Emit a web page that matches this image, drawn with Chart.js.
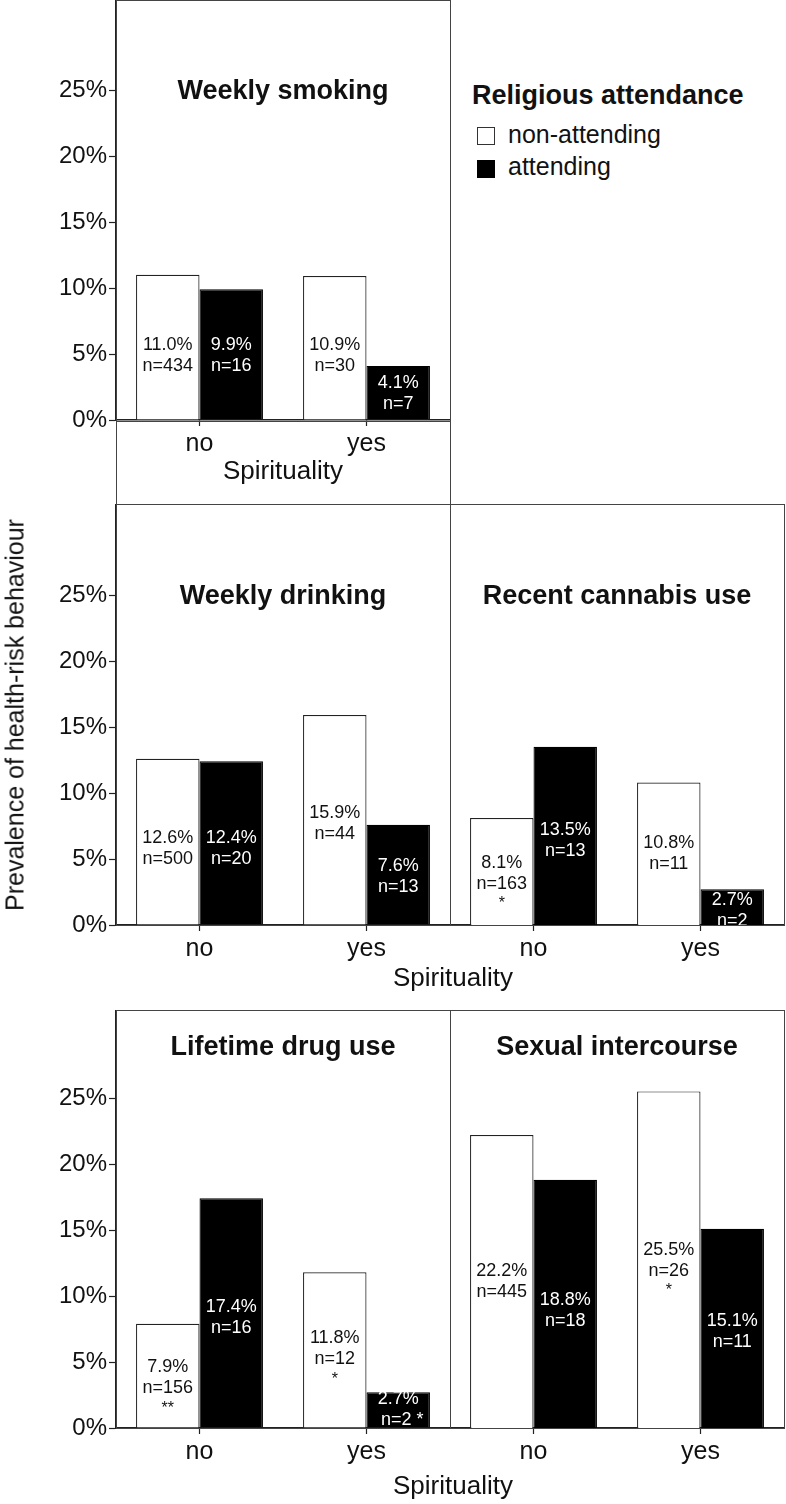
<!DOCTYPE html>
<html><head><meta charset="utf-8">
<script src="https://cdn.jsdelivr.net/npm/chart.js@4"></script>
<style>
body{margin:0;background:#fff;width:786px;height:1504px;position:relative;overflow:hidden;font-family:"Liberation Sans",Arial,sans-serif;color:#111}
canvas{position:absolute}
.box{position:absolute;border:1.5px solid #444;box-sizing:border-box;pointer-events:none}
.t{position:absolute;white-space:nowrap;font-size:25px}
</style></head><body>
<script>
const categories = ["no", "yes"];
const seriesNames = ["non-attending", "attending"];
const panelTitles = ["Weekly smoking", "Weekly drinking", "Recent cannabis use", "Lifetime drug use", "Sexual intercourse"];
const nonAttending = [[11.0, 10.9], [12.6, 15.9], [8.1, 10.8], [7.9, 11.8], [22.2, 25.5]];
const attending = [[9.9, 4.1], [12.4, 7.6], [13.5, 2.7], [17.4, 2.7], [18.8, 15.1]];
const nNon = [[434, 30], [500, 44], [163, 11], [156, 12], [445, 26]];
const nAtt = [[16, 7], [20, 13], [13, 2], [16, 2], [18, 11]];
const starsNon = [["", ""], ["", ""], ["*", ""], ["**", "*"], ["", "*"]];
const starsAtt = [["", ""], ["", ""], ["", ""], ["", "*"], ["", ""]];
const yTicks = [0, 5, 10, 15, 20, 25];

// layout (not data)
const layout = [
  {left:0, top:0, w:450, plotTop:0, plotBottom:420, h:504, axis:true, titleDy:92,
   lblNon:[4.9,4.9], lblAtt:[4.9,2.0]},
  {left:0, top:504, w:450, plotTop:504, plotBottom:925, h:470, axis:true, titleDy:93,
   lblNon:[5.8,7.65], lblAtt:[5.8,3.7]},
  {left:450, top:504, w:334, plotTop:504, plotBottom:925, h:470, axis:false, titleDy:93,
   lblNon:[3.1,5.4], lblAtt:[6.4,1.1]},
  {left:0, top:1010, w:450, plotTop:1010, plotBottom:1428, h:494, axis:true, titleDy:38,
   lblNon:[3.0,5.2], lblAtt:[8.4,1.4]},
  {left:450, top:1010, w:334, plotTop:1010, plotBottom:1428, h:494, axis:false, titleDy:38,
   lblNon:[11.1,11.9], lblAtt:[8.9,7.3]}
];
const PXPERPCT = 13.2;
const FONT = '"Liberation Sans", Arial, sans-serif';

function addDiv(cls, css, text){
  const d=document.createElement('div'); d.className=cls; d.style.cssText=css;
  if(text!==undefined) d.textContent=text; document.body.appendChild(d); return d;
}

const labelPlugin = {
  id:'barLabels',
  afterDatasetsDraw(chart){
    const o = chart.options.plugins.barLabels;
    const ctx = chart.ctx, ys = chart.scales.y;
    ctx.save();
    ctx.textAlign='center'; ctx.textBaseline='middle';
    chart.data.datasets.forEach((ds,di)=>{
      const meta = chart.getDatasetMeta(di);
      meta.data.forEach((bar,i)=>{
        const lines=[ds.data[i].toFixed(1)+'%', 'n='+o.n[di][i]];
        const star=o.stars[di][i];
        const cy = ys.getPixelForValue(o.pos[di][i]);
        const nL = star && !o.starInline[di][i] ? 3 : 2;
        const lh = 21;
        let y0 = cy - (nL-1)*lh/2;
        ctx.fillStyle = di===0 ? '#111' : '#fff';
        ctx.font = '18px '+FONT;
        ctx.fillText(lines[0], bar.x, y0);
        if(star && o.starInline[di][i]){
          ctx.fillText(lines[1]+' '+star, bar.x+4, y0+lh);
        } else {
          ctx.fillText(lines[1], bar.x, y0+lh);
          if(star){ ctx.font='16px '+FONT; ctx.fillText(star, bar.x, y0+lh*2-1); }
        }
      });
    });
    ctx.fillStyle='#111'; ctx.font='bold 27px '+FONT;
    ctx.fillText(o.title, (chart.chartArea.left+chart.chartArea.right)/2, chart.chartArea.top+o.titleDy);
    ctx.restore();
  }
};

layout.forEach((L,p)=>{
  const c=document.createElement('canvas');
  c.style.left=L.left+'px'; c.style.top=L.top+'px';
  c.style.width=L.w+'px'; c.style.height=L.h+'px';
  c.width=L.w; c.height=L.h;
  document.body.appendChild(c);
  const plotH = L.plotBottom-L.plotTop;
  const ymax = plotH/PXPERPCT;
  new Chart(c,{
    type:'bar',
    data:{labels:categories, datasets:[
      {label:seriesNames[0], data:nonAttending[p], backgroundColor:'#fff', borderColor:'#222', borderWidth:1.2},
      {label:seriesNames[1], data:attending[p], backgroundColor:'#000', borderColor:'#000', borderWidth:1.2}
    ]},
    options:{
      responsive:false, animation:false, devicePixelRatio:1,
      layout:{padding:0},
      categoryPercentage:0.76, barPercentage:1,
      plugins:{legend:{display:false}, tooltip:{enabled:false},
        barLabels:{n:[nNon[p],nAtt[p]], stars:[starsNon[p],starsAtt[p]],
          starInline:[[false,false],[false, p===3]], pos:[L.lblNon,L.lblAtt],
          title:panelTitles[p], titleDy:L.titleDy}},
      scales:{
        x:{
          grid:{display:true, drawOnChartArea:false, offset:false, tickLength:6, color:'#222', tickWidth:1.2},
          border:{display:true, color:'#222', width:1.5},
          ticks:{color:'#111', font:{size:25, family:FONT}, padding:3, maxRotation:0},
          afterFit(s){ s.height = L.h - plotH; s.paddingLeft=0; s.paddingRight=0; }
        },
        y:{
          display:L.axis, min:0, max:ymax,
          afterBuildTicks(s){ s.ticks = yTicks.map(v=>({value:v})); },
          grid:{drawOnChartArea:false, tickLength:7, color:'#222', tickWidth:1.2},
          border:{display:true, color:'#222', width:1.5},
          ticks:{color:'#111', font:{size:24, family:FONT}, padding:2, callback:v=>v+'%'},
          afterFit(s){ s.width = L.axis ? 116 : 0; s.paddingTop=0; s.paddingBottom=0; }
        }
      }
    },
    plugins:[labelPlugin]
  });
});

// boxes
addDiv('box','left:116px;top:0;width:335px;height:505px');
addDiv('box','left:116px;top:421px;width:335px;height:3px;border-width:1.5px 0 0 0');
addDiv('box','left:116px;top:504px;width:335px;height:422px');
addDiv('box','left:450px;top:504px;width:335px;height:422px');
addDiv('box','left:116px;top:1010px;width:335px;height:419px');
addDiv('box','left:450px;top:1010px;width:335px;height:419px');

// axis titles
addDiv('t','left:183px;top:455px;width:200px;text-align:center;font-size:26px','Spirituality');
addDiv('t','left:353px;top:962px;width:200px;text-align:center;font-size:26px','Spirituality');
addDiv('t','left:353px;top:1470px;width:200px;text-align:center;font-size:26px','Spirituality');
addDiv('t','left:15px;top:715px;font-size:25px;transform:translate(-50%,-50%) rotate(-90deg)','Prevalence of health-risk behaviour');

// legend
addDiv('t','left:472px;top:80px;font-size:27px;font-weight:bold','Religious attendance');
addDiv('box','left:477px;top:127px;width:18px;height:18px;border:1.5px solid #333');
addDiv('t','left:508px;top:120px;font-size:25px','non-attending');
addDiv('box','left:477px;top:160px;width:18px;height:18px;background:#000;border:1.5px solid #000');
addDiv('t','left:508px;top:152px;font-size:25px','attending');
</script>
</body></html>
